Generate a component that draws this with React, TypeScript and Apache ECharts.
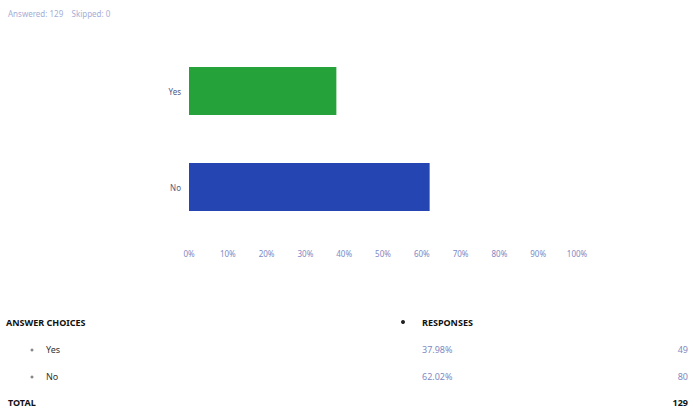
import React, { useEffect, useRef } from "react";
import * as echarts from "echarts";

const categories = ["Yes", "No"];
const percentValues = [37.98, 62.02];
const responseCounts = [49, 80];
const totalResponses = 129;
const skipped = 0;
const barColors = ["#25a23a", "#2445b2"];
const tickValues = [0, 10, 20, 30, 40, 50, 60, 70, 80, 90, 100];

export default function App() {
  const ref = useRef<HTMLDivElement>(null);
  useEffect(() => {
    if (!ref.current) return;
    const chart = echarts.init(ref.current, null, { renderer: "svg" });
    const labelColor = "#8089c4";
    const rowYs = [350, 377];
    const graphic: any[] = [
      {
        type: "text",
        left: 8,
        top: 9,
        style: {
          text: `Answered: ${totalResponses}    Skipped: ${skipped}`,
          fill: "#a4aed6",
          font: "8px 'Noto Sans'",
        },
      },
      {
        type: "text",
        x: 6,
        y: 318,
        style: { text: "ANSWER CHOICES", fill: "#111", font: "bold 9px 'Liberation Sans Narrow', 'Noto Sans'" },
      },
      { type: "circle", shape: { cx: 403, cy: 322, r: 2 }, style: { fill: "#222" } },
      {
        type: "text",
        x: 422,
        y: 318,
        style: { text: "RESPONSES", fill: "#111", font: "bold 9px 'Liberation Sans Narrow', 'Noto Sans'" },
      },
      {
        type: "text",
        x: 8,
        y: 398,
        style: { text: "TOTAL", fill: "#111", font: "bold 9px 'Noto Sans'" },
      },
      {
        type: "text",
        x: 688,
        y: 398,
        style: { text: String(totalResponses), fill: "#111", font: "bold 9px 'Noto Sans'", align: "right" },
      },
    ];
    categories.forEach((c, i) => {
      graphic.push(
        { type: "circle", shape: { cx: 32, cy: rowYs[i], r: 1.5 }, style: { fill: "#888" } },
        { type: "text", x: 46, y: rowYs[i] - 5, style: { text: c, fill: "#333", font: "9px 'Noto Sans'" } },
        {
          type: "text",
          x: 422,
          y: rowYs[i] - 5,
          style: { text: percentValues[i].toFixed(2) + "%", fill: labelColor, font: "9px 'Noto Sans'" },
        },
        {
          type: "text",
          x: 688,
          y: rowYs[i] - 5,
          style: { text: String(responseCounts[i]), fill: labelColor, font: "9px 'Noto Sans'", align: "right" },
        }
      );
    });
    chart.setOption({
      animation: false,
      backgroundColor: "#fff",
      grid: { left: 189, right: 115, top: 43, height: 192, containLabel: false },
      xAxis: {
        type: "value",
        min: 0,
        max: 100,
        interval: 10,
        axisLine: { show: false },
        axisTick: { show: false },
        splitLine: { show: false },
        axisLabel: {
          color: labelColor,
          fontSize: 8,
          fontFamily: "Noto Sans",
          margin: 14,
          formatter: (v: number) => (tickValues.includes(v) ? v + "%" : ""),
        },
      },
      yAxis: {
        type: "category",
        inverse: true,
        data: categories,
        axisLine: { show: false },
        axisTick: { show: false },
        axisLabel: { color: "#555a80", fontSize: 8, fontFamily: "Noto Sans", margin: 8 },
      },
      series: [
        {
          type: "bar",
          barWidth: 48,
          data: percentValues.map((v, i) => ({ value: v, itemStyle: { color: barColors[i] } })),
        },
      ],
      graphic,
    });
    return () => chart.dispose();
  }, []);
  return (
    <div
      ref={ref}
      style={{ position: "fixed", left: 0, top: 0, width: 692, height: 413 }}
    />
  );
}
